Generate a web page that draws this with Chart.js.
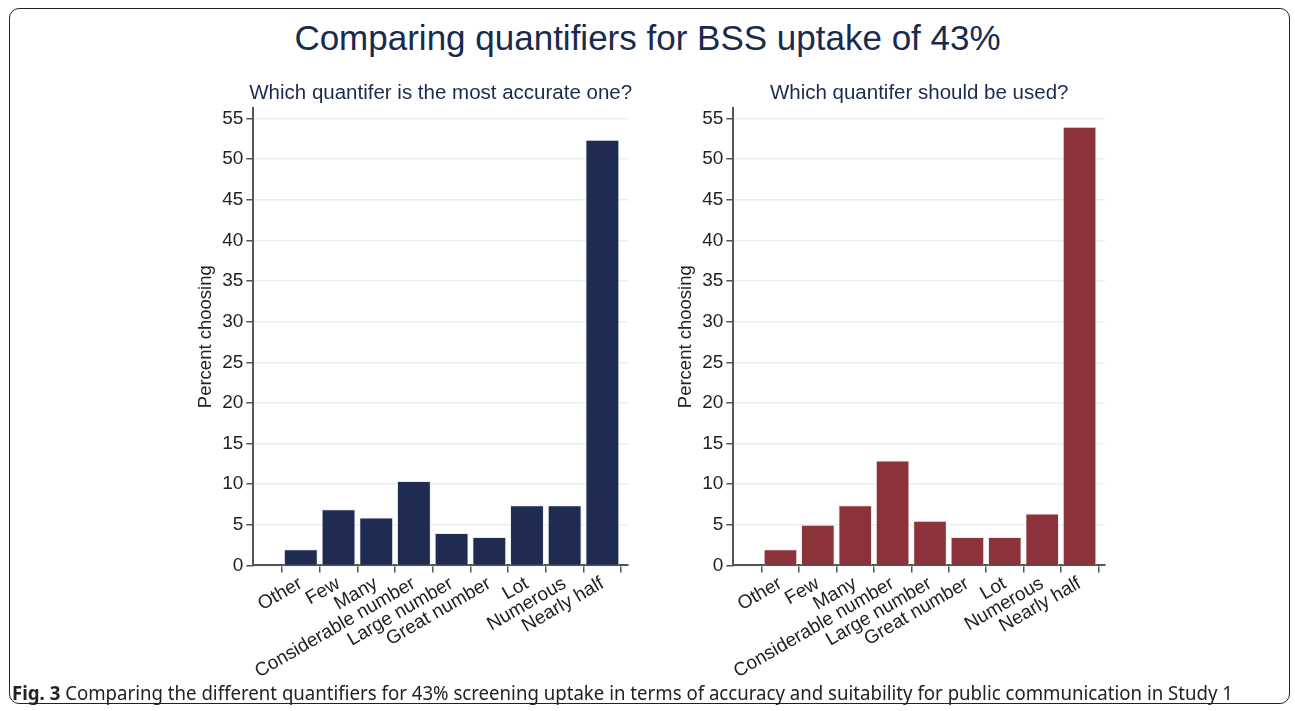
<!DOCTYPE html>
<html>
<head>
<meta charset="utf-8">
<script src="https://cdn.jsdelivr.net/npm/chart.js@4.4.1/dist/chart.umd.min.js"></script>
<style>
  body { margin: 0; background: #fff; width: 1295px; height: 711px; position: relative; overflow: hidden; }
  #frame { position: absolute; left: 9px; top: 8px; width: 1281px; height: 696px; border: 1.5px solid #222; border-radius: 10px; box-sizing: border-box; }
  #mainTitle { position: absolute; left: 0; width: 1295px; top: 18px; text-align: center; font-family: "Liberation Sans", Arial, sans-serif; font-size: 35px; color: #1a2a4f; }
  #caption { position: absolute; left: 12px; top: 679px; font-family: "Noto Sans", sans-serif; font-size: 20px; color: #222; white-space: nowrap; transform-origin: 0 0; }
  #caption b { font-weight: bold; }
  .box { position: absolute; top: 72px; height: 611px; }
  #leftBox { left: 187px; width: 451px; }
  #rightBox { left: 667px; width: 448px; }
</style>
</head>
<body>
<div id="frame"></div>
<div id="mainTitle">Comparing quantifiers for BSS uptake of 43%</div>
<div class="box" id="leftBox"><canvas id="leftChart"></canvas></div>
<div class="box" id="rightBox"><canvas id="rightChart"></canvas></div>
<div id="caption"><b>Fig. 3</b> Comparing the different quantifiers for 43% screening uptake in terms of accuracy and suitability for public communication in Study 1</div>
<script>
var quantifiers = ["Other", "Few", "Many", "Considerable number", "Large number", "Great number", "Lot", "Numerous", "Nearly half"]
var accurate = [2, 6.9, 5.9, 10.4, 4, 3.5, 7.4, 7.4, 52.4]
var shouldUse = [2, 5, 7.4, 12.9, 5.5, 3.5, 3.5, 6.4, 54]
var yTicks = [0, 5, 10, 15, 20, 25, 30, 35, 40, 45, 50, 55]

var fontName = "'Liberation Sans', Arial, sans-serif"

// squeeze the caption to the width it has in the figure
var cap = document.querySelector("#caption")
cap.style.transform = "scaleX(" + (1221 / cap.offsetWidth) + ")"

// panel title, centred over the plot area like stata does it
const panelTitle = {
    id: 'panelTitle',
    afterDraw(chart, args, opts) {
        const ctx = chart.ctx
        const area = chart.chartArea
        ctx.save()
        ctx.font = "20.5px " + fontName
        ctx.fillStyle = "#1a2a4f"
        ctx.textAlign = "center"
        ctx.textBaseline = "middle"
        ctx.fillText(opts.text, (area.left + area.right) / 2, 21)
        ctx.restore()
    }
}

function makeChart(id, title, values, color) {
    var points = []
    values.forEach((v, i) => {
        points.push({x: i, y: v})
    })
    new Chart(document.querySelector(id), {
        type: 'bar',
        data: {
            datasets: [{
                data: points,
                backgroundColor: color,
                borderColor: "#e8eef0",
                borderWidth: 1,
                barPercentage: 0.9,
                categoryPercentage: 1
            }]
        },
        plugins: [panelTitle],
        options: {
            responsive: true,
            maintainAspectRatio: false,
            animation: false,
            layout: { padding: { left: 6, right: 10, top: 36, bottom: 0 } },
            plugins: {
                legend: { display: false },
                tooltip: { enabled: false },
                panelTitle: { text: title }
            },
            scales: {
                x: {
                    type: 'linear',
                    offset: false,
                    min: -1.26,
                    max: 8.68,
                    afterBuildTicks: scale => {
                        scale.ticks = quantifiers.map((q, i) => ({value: i}))
                    },
                    ticks: {
                        autoSkip: false,
                        minRotation: 30,
                        maxRotation: 30,
                        color: "#222",
                        font: { family: fontName, size: 19 },
                        padding: 0,
                        callback: v => quantifiers[v]
                    },
                    grid: { drawOnChartArea: false, color: "#555", tickColor: "#555", tickLength: 7, lineWidth: 1.5 },
                    border: { color: "#555", width: 2 }
                },
                y: {
                    min: 0,
                    max: 56.3,
                    afterBuildTicks: scale => {
                        scale.ticks = yTicks.map(v => ({value: v}))
                    },
                    ticks: {
                        color: "#222",
                        font: { family: fontName, size: 19 },
                        padding: 3
                    },
                    grid: { color: "#e6eff2", tickColor: "#555", tickLength: 7, lineWidth: 1.5 },
                    border: { color: "#555", width: 2 },
                    title: {
                        display: true,
                        text: "Percent choosing",
                        color: "#222",
                        font: { family: fontName, size: 18.5 },
                        padding: 2
                    }
                }
            }
        }
    })
}

makeChart("#leftChart", "Which quantifer is the most accurate one?", accurate, "#1f2b51")
makeChart("#rightChart", "Which quantifer should be used?", shouldUse, "#8c323a")
</script>
</body>
</html>
